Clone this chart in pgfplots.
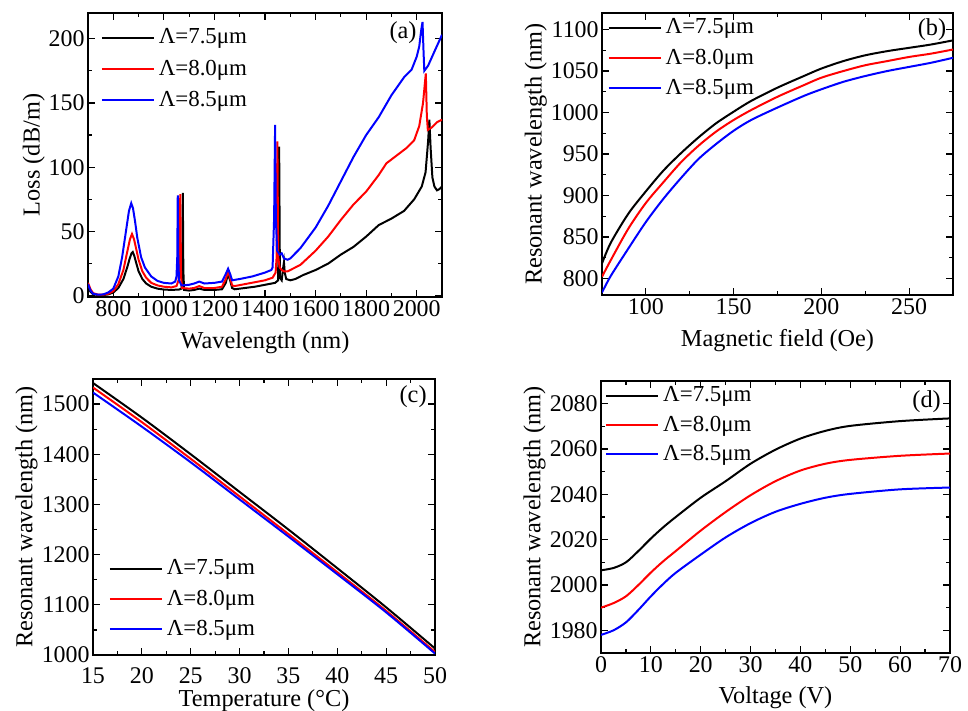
\documentclass[border=0pt]{standalone}
\usepackage{fontspec}
\setmainfont{Liberation Serif}
\usepackage{pgfplots}
\pgfplotsset{compat=1.18}
\pgfplotsset{
 panel/.style={
  scale only axis,
  axis line style={line width=0.8pt},
  every tick/.style={black, line width=0.6pt},
  major tick length=3.5bp, minor tick length=2bp,
  tick align=inside,
  ticklabel style={font=\fontsize{12}{14}\selectfont},
  xticklabel style={inner sep=1.5pt},
  yticklabel style={inner sep=1.5pt},
  label style={font=\fontsize{12.2}{14}\selectfont},
  ylabel style={yshift=-3pt},
  /pgf/number format/assume math mode=true,
  /pgf/number format/1000 sep={},
  legend style={draw=none, fill=none, font=\fontsize{11.5}{13}\selectfont, inner sep=0pt},
  legend cell align=left,
  legend image code/.code={\draw[#1, line width=1pt] (0bp,0bp) -- (26bp,0bp);},
  every axis plot/.append style={line width=1pt},
 },
}
\begin{document}
\begin{tikzpicture}
\useasboundingbox (0,0) rectangle (484bp,355.5bp);
% (a)
\begin{axis}[panel, at={(44bp,207bp)}, anchor=south west, width=177bp, height=142bp,
  xmin=700, xmax=2100, ymin=-1, ymax=220,
  xtick={800,1000,...,2000}, minor xtick={700,900,...,2100},
  ytick={0,50,...,200}, minor ytick={25,75,...,225},
  xlabel style={yshift=-2.5pt},
  xlabel={Wavelength (nm)}, ylabel={Loss (dB/m)},
  legend style={at={(0.035,0.96)}, anchor=north west, row sep=2.5bp}]
\addplot[black] coordinates {
(700,6) (710,3) (720,1.2) (740,0.5) (760,0.5) (780,1) (800,2.5) (820,6) (840,13) (855,22) (865,29) (872,33) (877,34) (883,31) (890,26) (900,19) (915,13) (930,9.5) (950,7) (975,5.5) (1000,4.8) (1030,4.5) (1060,4.8) (1070,5.5) (1073,20) (1075,80) (1077,20) (1080,4.5) (1100,4) (1120,4.5) (1140,5.5) (1160,4.5) (1200,4.5) (1230,5) (1245,10) (1254,17) (1262,12) (1270,6) (1280,5) (1320,6) (1360,7) (1400,8.5) (1440,10) (1452,12) (1456,116) (1459,14) (1466,12) (1472,22) (1475,26) (1478,18) (1484,13) (1500,12) (1520,13) (1550,16) (1600,20) (1650,25) (1700,32) (1750,38) (1800,46) (1850,55) (1900,60) (1950,66) (1990,75) (2020,85) (2035,96) (2045,120) (2050,137) (2055,115) (2062,92) (2070,85) (2080,82) (2090,83) (2100,85)};
\addlegendentry{Λ=7.5μm}
\addplot[red] coordinates {
(700,10) (710,5) (720,2) (740,0.8) (760,0.8) (780,1.5) (800,3.5) (820,9) (840,20) (855,34) (866,44) (874,48) (882,44) (890,37) (900,28) (915,19) (930,14) (950,10) (975,8) (1000,7) (1030,6.5) (1050,7.5) (1058,12) (1062,30) (1065,79) (1068,15) (1072,6) (1100,5.5) (1120,6) (1140,7.5) (1160,6) (1200,6) (1230,7) (1245,13) (1254,19) (1262,14) (1270,8) (1280,7.5) (1320,9) (1360,10.5) (1400,12) (1430,14) (1442,18) (1446,30) (1449,120) (1452,30) (1458,22) (1466,20) (1475,19) (1490,19) (1500,20) (1540,24) (1600,35) (1650,46) (1700,59) (1750,71) (1800,81) (1850,94) (1880,103) (1920,109) (1960,115) (1990,121) (2010,132) (2025,150) (2036,173) (2040,140) (2044,129) (2060,131) (2080,135) (2100,137)};
\addlegendentry{Λ=8.0μm}
\addplot[blue] coordinates {
(700,9) (710,4) (720,1.5) (740,0.8) (760,1) (780,2.5) (800,5.5) (820,15) (835,30) (850,50) (862,66) (871,72) (878,68) (886,58) (895,45) (910,30) (925,22) (950,15) (975,11.5) (1000,10) (1030,9.5) (1045,11) (1050,15) (1053,30) (1055,78) (1057,30) (1060,12) (1070,8) (1100,8.5) (1120,9.5) (1140,11) (1160,9.5) (1200,10) (1230,11) (1245,17) (1254,21) (1262,17) (1270,12) (1300,13) (1350,15) (1400,18) (1425,20) (1430,22) (1436,60) (1440,133) (1443,60) (1448,35) (1458,32) (1466,33) (1475,29) (1490,28) (1500,29) (1540,37) (1600,53) (1650,70) (1700,89) (1750,108) (1800,125) (1850,139) (1900,156) (1950,170) (1980,176) (2000,186) (2010,194) (2018,207) (2023,213) (2027,190) (2030,175) (2045,179) (2070,190) (2100,203)};
\addlegendentry{Λ=8.5μm}
\node[font=\fontsize{12.2}{14}\selectfont] at (rel axis cs:0.89,0.93) {(a)};
\end{axis}
% (b)
\begin{axis}[panel, at={(301bp,208bp)}, anchor=south west, width=175.5bp, height=141bp,
  xmin=75, xmax=275, ymin=780, ymax=1120,
  xtick={100,150,...,250}, minor xtick={75,125,...,275},
  ytick={800,850,...,1100}, minor ytick={825,875,...,1125},
  xlabel style={yshift=-2.5pt},
  xlabel={Magnetic field (Oe)}, ylabel={Resonant wavelength (nm)},
  legend style={at={(0.015,0.995)}, anchor=north west, row sep=2bp}]
\addplot[black, smooth] coordinates {(75,818) (80,843) (90,878) (100,905) (110,930) (120,951) (130,970) (140,987) (150,1001) (160,1014) (175,1030) (190,1044) (200,1053) (212.5,1062) (225,1069) (237.5,1074) (250,1078) (262.5,1082) (275,1087)};
\addlegendentry{Λ=7.5μm}
\addplot[red, smooth] coordinates {(75,802) (80,822) (90,860) (100,891) (110,916) (120,940) (130,960) (140,977) (150,991) (160,1003) (175,1019) (190,1033) (200,1042) (212.5,1050) (225,1057) (237.5,1062) (250,1067) (262.5,1071) (275,1076)};
\addlegendentry{Λ=8.0μm}
\addplot[blue, smooth] coordinates {(75,783) (80,803) (90,836) (100,868) (110,896) (120,921) (130,944) (140,962) (150,978) (160,991) (175,1006) (190,1020) (200,1028) (212.5,1037) (225,1044) (237.5,1050) (250,1055) (262.5,1060) (275,1066)};
\addlegendentry{Λ=8.5μm}
\node[font=\fontsize{12.2}{14}\selectfont] at (rel axis cs:0.94,0.94) {(b)};
\end{axis}
% (c)
\begin{axis}[panel, at={(46.5bp,28bp)}, anchor=south west, width=171bp, height=138bp,
  xmin=15, xmax=50, ymin=1000, ymax=1550,
  xtick={15,20,...,50}, minor xtick={17.5,22.5,...,47.5},
  ytick={1000,1100,...,1500}, minor ytick={1050,1150,...,1550},
  xticklabel style={yshift=-4.5pt},
  xlabel style={yshift=2pt},
  xlabel={Temperature (°C)}, ylabel={Resonant wavelength (nm)},
  legend style={at={(0.045,0.045)}, anchor=south west, row sep=2bp}]
\addplot[black, smooth] coordinates {(15,1542) (20,1473) (25,1400) (30,1325) (35,1250) (40,1173) (45,1095) (50,1013)};
\addlegendentry{Λ=7.5μm}
\addplot[red, smooth] coordinates {(15,1533) (20,1464) (25,1391) (30,1316) (35,1241) (40,1165) (45,1088) (50,1006)};
\addlegendentry{Λ=8.0μm}
\addplot[blue, smooth] coordinates {(15,1523) (20,1455) (25,1384) (30,1310) (35,1236) (40,1161) (45,1085) (50,1003)};
\addlegendentry{Λ=8.5μm}
\node[font=\fontsize{12.2}{14}\selectfont] at (rel axis cs:0.936,0.936) {(c)};
\end{axis}
% (d)
\begin{axis}[panel, at={(300.5bp,29bp)}, anchor=south west, width=174.5bp, height=136bp,
  xmin=0, xmax=70, ymin=1970, ymax=2090,
  xtick={0,10,...,70}, minor xtick={5,15,...,65},
  ytick={1980,2000,...,2080}, minor ytick={1970,1990,...,2090},
  xlabel style={yshift=-2pt},
  xlabel={Voltage (V)}, ylabel={Resonant wavelength (nm)},
  legend style={at={(0.011,0.995)}, anchor=north west, row sep=1.5bp}]
\addplot[black, smooth] coordinates {(0,2006.5) (2.5,2007.5) (5,2010) (7.5,2015) (10,2020.5) (12.5,2025.5) (15,2030) (20,2038.5) (25,2045.8) (30,2053.5) (35,2059.7) (40,2064.6) (45,2068) (50,2070.2) (60,2072.3) (70,2073.5)};
\addlegendentry{Λ=7.5μm}
\addplot[red, smooth] coordinates {(0,1990) (2.5,1992) (5,1995) (7.5,2000) (10,2005.5) (12.5,2010.5) (15,2015) (20,2024) (25,2032.2) (30,2039.6) (35,2045.8) (40,2050.5) (45,2053.5) (50,2055.2) (60,2057) (70,2058)};
\addlegendentry{Λ=8.0μm}
\addplot[blue, smooth] coordinates {(0,1978) (2.5,1980) (5,1983.5) (7.5,1989) (10,1995) (12.5,2000.5) (15,2005.4) (20,2013.4) (25,2021) (30,2027.3) (35,2032.3) (40,2035.8) (45,2038.5) (50,2040.2) (60,2042.2) (70,2043)};
\addlegendentry{Λ=8.5μm}
\node[font=\fontsize{12.2}{14}\selectfont] at (rel axis cs:0.933,0.924) {(d)};
\end{axis}
\end{tikzpicture}
\end{document}
